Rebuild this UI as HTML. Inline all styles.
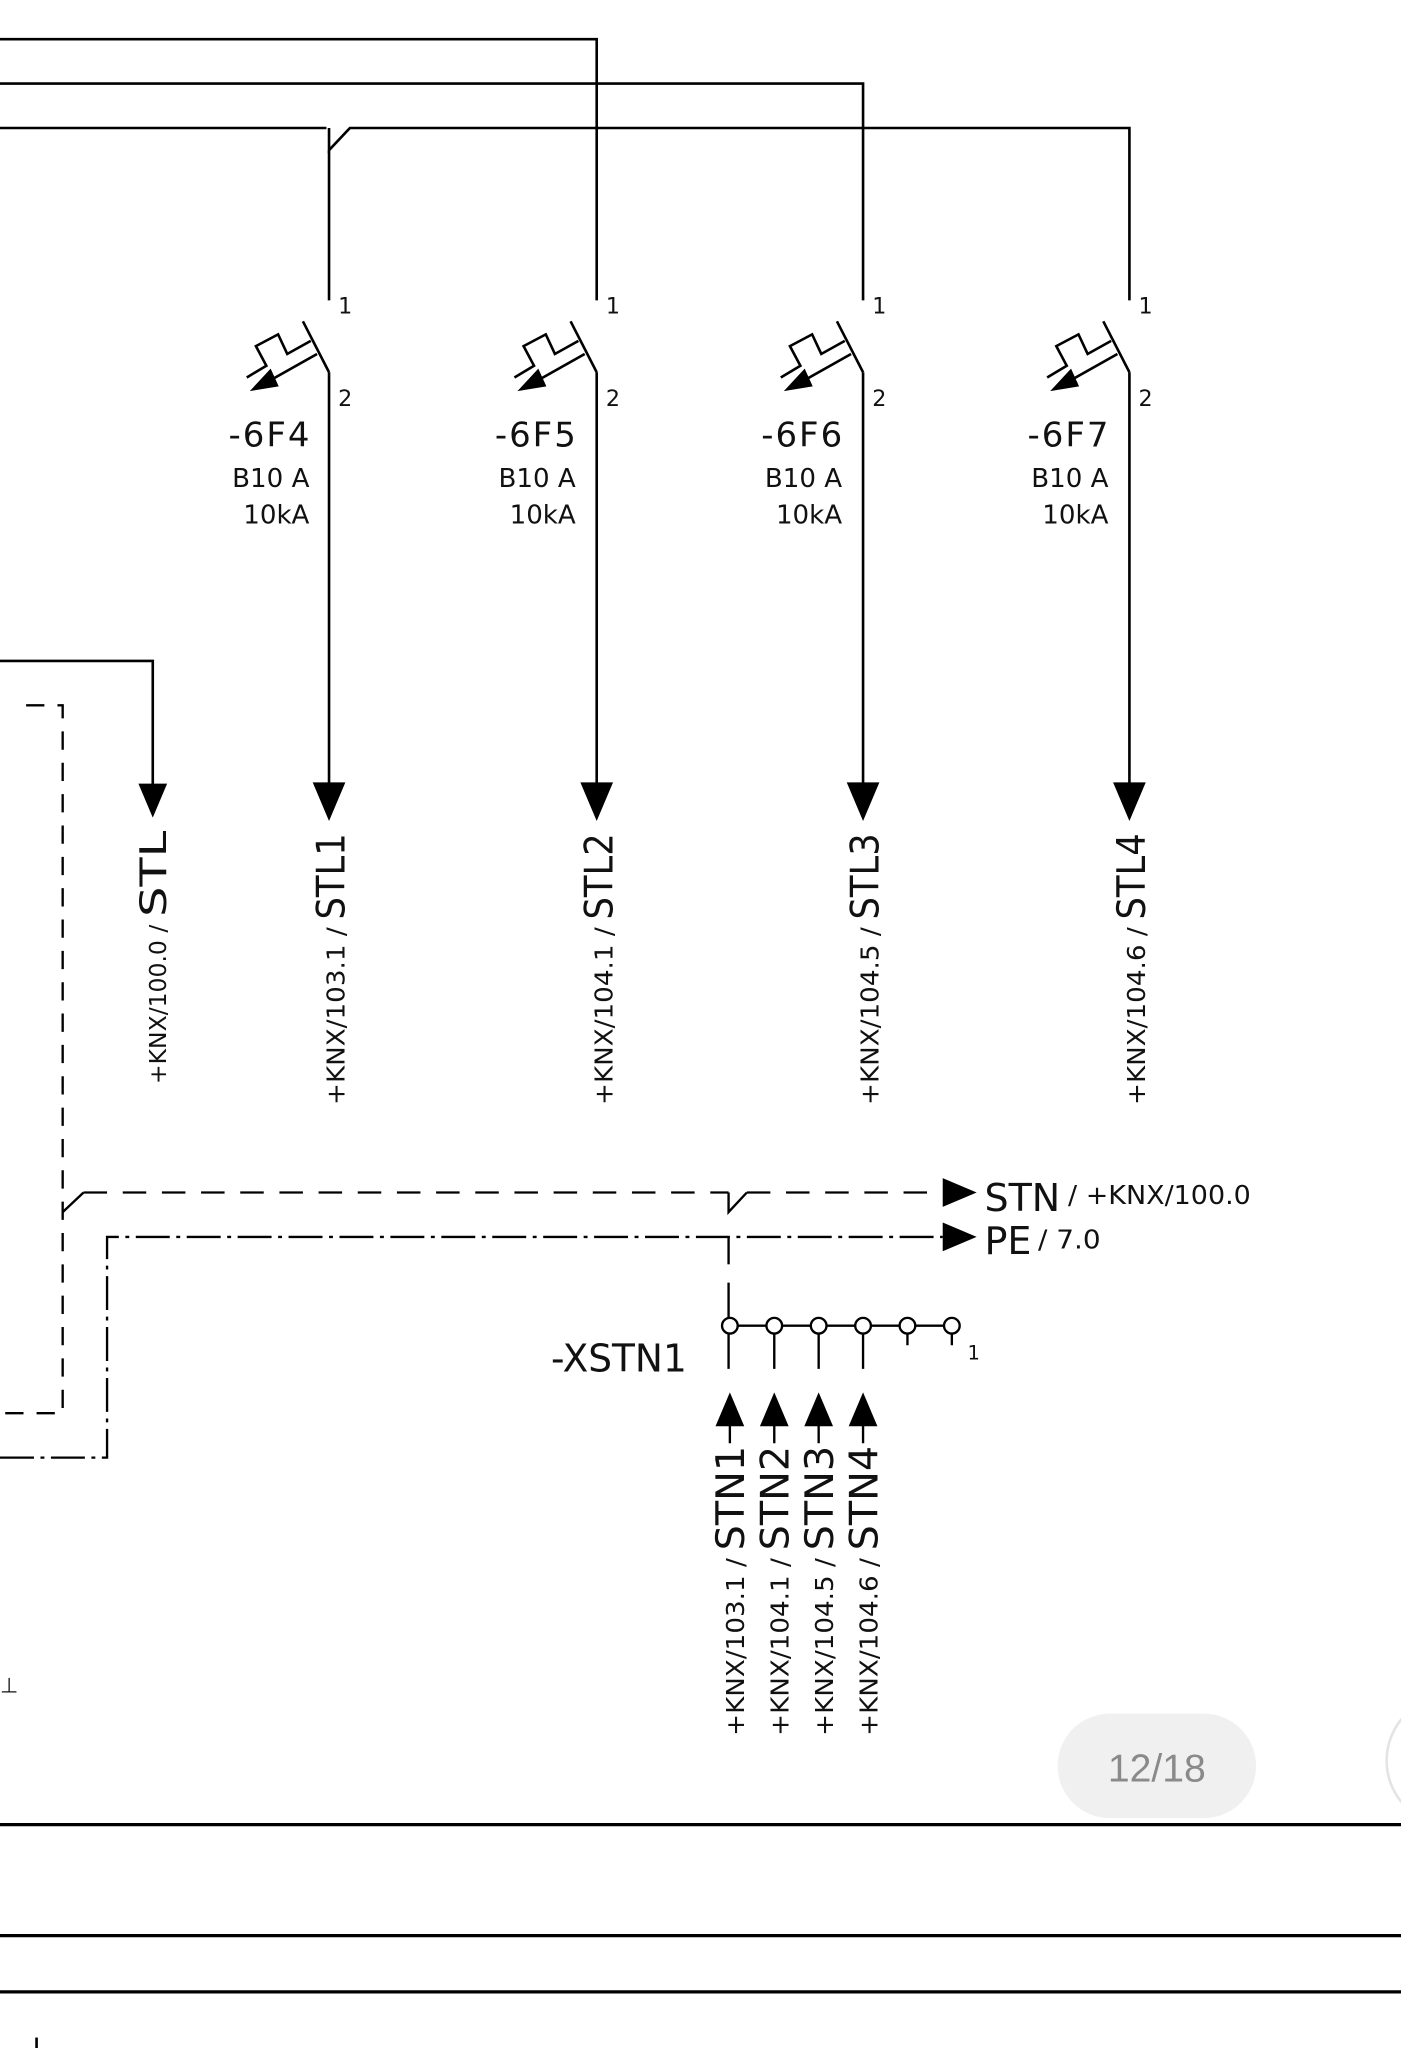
<!DOCTYPE html>
<html><head><meta charset="utf-8"><style>html,body{margin:0;padding:0;background:#fff;}svg{display:block}</style></head>
<body>
<svg width="1401" height="2048" viewBox="0 0 1073 1568" preserveAspectRatio="none" xmlns="http://www.w3.org/2000/svg" font-family="'DejaVu Sans','Liberation Sans',sans-serif">
<defs>
<g id="brk" fill="none" stroke="#000" stroke-width="2">
  <path d="M0,285 L-20,246"/>
  <path d="M-63,289 L-48,280 L-56,265 L-39,256 L-32,271 L-14,261"/>
  <path d="M-9.2,271 L-50,294"/>
  <path d="M-58,298 L-45,284 L-40,295 Z" fill="#000"/>
  <path d="M0,285 V605"/>
  <path d="M-11,600 L11,600 L0,626 Z" fill="#000"/>
</g>
</defs>
<rect width="1073" height="1568" fill="#fff"/>
<g fill="none" stroke="#000" stroke-width="2">
  <path d="M0,30 H457 V230"/>
  <path d="M0,64 H661 V230"/>
  <path d="M0,98 H250 M252,98 V115 L268,98 H865 V230"/>
  <path d="M252,115 V230"/>
  <path d="M0,506 H117 V605"/>
</g>
<path d="M106,600 L128,600 L117,626 Z"/>
<use href="#brk" x="252"/>
<use href="#brk" x="457"/>
<use href="#brk" x="661"/>
<use href="#brk" x="865"/>
<g font-size="17" fill="#111">
  <text x="259" y="240">1</text><text x="259" y="311">2</text>
  <text x="464" y="240">1</text><text x="464" y="311">2</text>
  <text x="668" y="240">1</text><text x="668" y="311">2</text>
  <text x="872" y="240">1</text><text x="872" y="311">2</text>
</g>
<g fill="#111" text-anchor="end">
  <text x="237" y="342" font-size="26" textLength="62">-6F4</text>
  <text x="237" y="373" font-size="20">B10 A</text>
  <text x="237" y="401" font-size="20">10kA</text>
  <text x="441" y="342" font-size="26" textLength="62">-6F5</text>
  <text x="441" y="373" font-size="20">B10 A</text>
  <text x="441" y="401" font-size="20">10kA</text>
  <text x="645" y="342" font-size="26" textLength="62">-6F6</text>
  <text x="645" y="373" font-size="20">B10 A</text>
  <text x="645" y="401" font-size="20">10kA</text>
  <text x="849" y="342" font-size="26" textLength="62">-6F7</text>
  <text x="849" y="373" font-size="20">B10 A</text>
  <text x="849" y="401" font-size="20">10kA</text>
</g>
<g fill="#111">
  <g transform="translate(127,830) rotate(-90)"><text x="0" y="0" font-size="18" textLength="122" lengthAdjust="spacingAndGlyphs">+KNX/100.0 /</text><text x="128" y="0" font-size="28" textLength="66" lengthAdjust="spacingAndGlyphs">STL</text></g>
  <g transform="translate(264,846) rotate(-90)"><text x="0" y="0" font-size="19" textLength="136" lengthAdjust="spacingAndGlyphs">+KNX/103.1 /</text><text x="142" y="0" font-size="30" textLength="66" lengthAdjust="spacingAndGlyphs">STL1</text></g>
  <g transform="translate(469,846) rotate(-90)"><text x="0" y="0" font-size="19" textLength="136" lengthAdjust="spacingAndGlyphs">+KNX/104.1 /</text><text x="142" y="0" font-size="30" textLength="66" lengthAdjust="spacingAndGlyphs">STL2</text></g>
  <g transform="translate(673,846) rotate(-90)"><text x="0" y="0" font-size="19" textLength="136" lengthAdjust="spacingAndGlyphs">+KNX/104.5 /</text><text x="142" y="0" font-size="30" textLength="66" lengthAdjust="spacingAndGlyphs">STL3</text></g>
  <g transform="translate(877,846) rotate(-90)"><text x="0" y="0" font-size="19" textLength="136" lengthAdjust="spacingAndGlyphs">+KNX/104.6 /</text><text x="142" y="0" font-size="30" textLength="66" lengthAdjust="spacingAndGlyphs">STL4</text></g>

  <g transform="translate(570,1329) rotate(-90)"><text x="0" y="0" font-size="19" textLength="136" lengthAdjust="spacingAndGlyphs">+KNX/103.1 /</text><text x="142" y="0" font-size="30" textLength="80" lengthAdjust="spacingAndGlyphs">STN1</text></g>
  <g transform="translate(604,1329) rotate(-90)"><text x="0" y="0" font-size="19" textLength="136" lengthAdjust="spacingAndGlyphs">+KNX/104.1 /</text><text x="142" y="0" font-size="30" textLength="80" lengthAdjust="spacingAndGlyphs">STN2</text></g>
  <g transform="translate(638,1329) rotate(-90)"><text x="0" y="0" font-size="19" textLength="136" lengthAdjust="spacingAndGlyphs">+KNX/104.5 /</text><text x="142" y="0" font-size="30" textLength="80" lengthAdjust="spacingAndGlyphs">STN3</text></g>
  <g transform="translate(672,1329) rotate(-90)"><text x="0" y="0" font-size="19" textLength="136" lengthAdjust="spacingAndGlyphs">+KNX/104.6 /</text><text x="142" y="0" font-size="30" textLength="80" lengthAdjust="spacingAndGlyphs">STN4</text></g>
</g>
<g fill="none" stroke="#000" stroke-width="1.8">
  <path d="M20,540 H48 V1082 H0" stroke-dasharray="14,10"/>
  <path d="M48,928 L64,913" />
  <path d="M64,913 H558" stroke-dasharray="18,12"/>
  <path d="M572,913 H720" stroke-dasharray="18,12"/>
  <path d="M558,913 V928 L572,913"/>
  <path d="M0,1116 H82 V947 H722" stroke-dasharray="26,5,3,5"/>
  <path d="M558,947 V968" />
  <path d="M558,982 V1048 M593,1021 V1048 M627,1021 V1048 M661,1021 V1048 M695,1021 V1030 M729,1021 V1030"/>
  <path d="M559,1015 H723"/>
  <path d="M559,1070 V1105 M593,1070 V1105 M627,1070 V1105 M661,1070 V1105"/>
</g>
<g fill="#fff" stroke="#000" stroke-width="1.8">
  <circle cx="559" cy="1015" r="6"/><circle cx="593" cy="1015" r="6"/><circle cx="627" cy="1015" r="6"/>
  <circle cx="661" cy="1015" r="6"/><circle cx="695" cy="1015" r="6"/><circle cx="729" cy="1015" r="6"/>
</g>
<g fill="#000">
  <path d="M722,902 L748,913 L722,924 Z"/>
  <path d="M722,936 L748,947 L722,958 Z"/>
  <path d="M548,1092 L559,1066 L570,1092 Z"/>
  <path d="M582,1092 L593,1066 L604,1092 Z"/>
  <path d="M616,1092 L627,1066 L638,1092 Z"/>
  <path d="M650,1092 L661,1066 L672,1092 Z"/>
</g>
<g fill="#111">
  <text x="754" y="927" font-size="29" textLength="58" lengthAdjust="spacingAndGlyphs">STN</text>
  <text x="818" y="922" font-size="20" textLength="140" lengthAdjust="spacingAndGlyphs">/ +KNX/100.0</text>
  <text x="754" y="960" font-size="29" textLength="36" lengthAdjust="spacingAndGlyphs">PE</text>
  <text x="795" y="956" font-size="20" textLength="48" lengthAdjust="spacingAndGlyphs">/ 7.0</text>
  <text x="741" y="1041" font-size="15">1</text>
  <text x="526" y="1050" font-size="29" text-anchor="end" textLength="104" lengthAdjust="spacingAndGlyphs">-XSTN1</text>
  <text x="0" y="1296" font-size="16">⊥</text>
</g>
<rect x="810" y="1312" width="152" height="80" rx="40" fill="#f0f0f0"/>
<text x="886" y="1364" font-size="30" fill="#8a8a8a" text-anchor="middle" font-family="'Liberation Sans',sans-serif">12/18</text>
<circle cx="1112" cy="1348" r="50" fill="#fff" stroke="#e4e4e4" stroke-width="2"/>
<g stroke="#000" stroke-width="2.5">
  <path d="M0,1397 H1073"/>
  <path d="M0,1482 H1073"/>
  <path d="M0,1525 H1073"/>
  <path d="M28,1560 V1568" stroke-width="2"/>
</g>
</svg>
</body></html>
